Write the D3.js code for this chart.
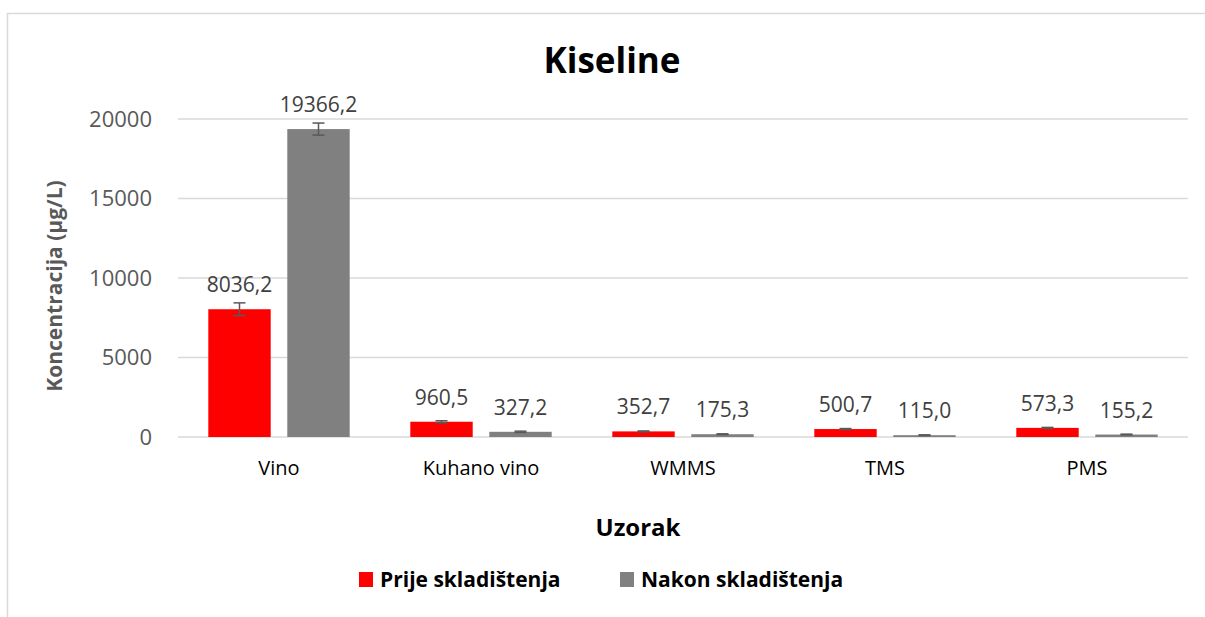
<!DOCTYPE html>
<html>
<head>
<meta charset="utf-8">
<script src="https://cdn.jsdelivr.net/npm/d3@7"></script>
<style>
  body { margin: 0; background: #fff; }
  svg { font-family: "Open Sans", sans-serif; }
</style>
</head>
<body>
<div id="chart"></div>
<script>
// data
var categories = ["Vino", "Kuhano vino", "WMMS", "TMS", "PMS"];
var seriesNames = ["Prije skladištenja", "Nakon skladištenja"];
var prije = [8036.2, 960.5, 352.7, 500.7, 573.3];
var nakon = [19366.2, 327.2, 175.3, 115.0, 155.2];
var prijeErr = [400, 60, 30, 30, 30];
var nakonErr = [380, 40, 25, 20, 25];
var yTicks = [0, 5000, 10000, 15000, 20000];
var colors = ["#ff0000", "#808080"];

var W = 1205, H = 617;
var margin = {top: 119, right: 17, bottom: 180, left: 178};
var width = W - margin.left - margin.right,
    height = H - margin.top - margin.bottom;

var svg = d3.select("#chart").append("svg")
    .attr("width", W)
    .attr("height", H);

// outer frame (runs past the right and bottom edges)
svg.append("rect")
    .attr("x", 7.5).attr("y", 13.5)
    .attr("width", W).attr("height", H)
    .attr("fill", "none")
    .attr("stroke", "#d9d9d9")
    .attr("stroke-width", 1.5);

var g = svg.append("g")
    .attr("transform", "translate(" + margin.left + "," + margin.top + ")");

var x0 = d3.scaleBand().domain(categories).range([0, width]).padding(0);
var x1 = d3.scaleBand().domain([0, 1])
    .range([x0.bandwidth() * 0.15, x0.bandwidth() * 0.85])
    .paddingInner(0.21);
var y = d3.scaleLinear().domain([0, 20000]).range([height, 0]);

// gridlines
g.append("g")
  .selectAll("line")
  .data(yTicks)
  .enter().append("line")
    .attr("x1", 0).attr("x2", width)
    .attr("y1", function(d) { return y(d); })
    .attr("y2", function(d) { return y(d); })
    .attr("stroke", "#d9d9d9")
    .attr("stroke-width", 1.5);

// y axis labels
var yAxis = g.append("g")
    .call(d3.axisLeft(y).tickValues(yTicks).tickSize(0).tickPadding(26).tickFormat(d3.format("d")));
yAxis.select(".domain").remove();
yAxis.selectAll("text")
    .attr("font-size", 22)
    .attr("font-family", "Open Sans, sans-serif")
    .attr("fill", "#595959");

// x axis labels
var xAxis = g.append("g")
    .attr("transform", "translate(0," + height + ")")
    .call(d3.axisBottom(x0).tickSize(0).tickPadding(24));
xAxis.select(".domain").remove();
xAxis.selectAll("text")
    .attr("font-size", 20)
    .attr("font-family", "Open Sans, sans-serif")
    .attr("fill", "#000");

var rows = categories.map(function(c, i) {
  return [
    {cat: c, s: 0, value: prije[i], err: prijeErr[i]},
    {cat: c, s: 1, value: nakon[i], err: nakonErr[i]}
  ];
});

var groups = g.selectAll(".grp")
  .data(rows)
  .enter().append("g")
    .attr("transform", function(d) { return "translate(" + x0(d[0].cat) + ",0)"; });

groups.selectAll("rect")
  .data(function(d) { return d; })
  .enter().append("rect")
    .attr("x", function(d) { return x1(d.s); })
    .attr("y", function(d) { return y(d.value); })
    .attr("width", x1.bandwidth())
    .attr("height", function(d) { return height - y(d.value); })
    .attr("fill", function(d) { return colors[d.s]; });

// error bars
var eb = groups.selectAll(".err")
  .data(function(d) { return d; })
  .enter().append("g")
    .attr("stroke", "#595959")
    .attr("stroke-width", 1.5);
eb.append("line")
    .attr("x1", function(d) { return x1(d.s) + x1.bandwidth() / 2; })
    .attr("x2", function(d) { return x1(d.s) + x1.bandwidth() / 2; })
    .attr("y1", function(d) { return y(d.value + d.err); })
    .attr("y2", function(d) { return y(d.value - d.err); });
[1, -1].forEach(function(sign) {
  eb.append("line")
    .attr("x1", function(d) { return x1(d.s) + x1.bandwidth() / 2 - 6; })
    .attr("x2", function(d) { return x1(d.s) + x1.bandwidth() / 2 + 6; })
    .attr("y1", function(d) { return y(d.value + sign * d.err); })
    .attr("y2", function(d) { return y(d.value + sign * d.err); });
});

// value labels
var fmt = function(v) { return d3.format(".1f")(v).replace(".", ","); };
groups.selectAll(".lbl")
  .data(function(d) { return d; })
  .enter().append("text")
    .attr("x", function(d) { return x1(d.s) + x1.bandwidth() / 2; })
    .attr("y", function(d) { return y(d.value) - 17; })
    .attr("text-anchor", "middle")
    .attr("font-size", 21)
    .attr("fill", "#404040")
    .text(function(d) { return fmt(d.value); });

// title
svg.append("text")
    .attr("x", 612).attr("y", 73)
    .attr("text-anchor", "middle")
    .attr("font-size", 35)
    .attr("font-weight", "bold")
    .attr("fill", "#000")
    .text("Kiseline");

// axis titles
svg.append("text")
    .attr("transform", "translate(62," + (margin.top + height / 2 + 8) + ") rotate(-90)")
    .attr("text-anchor", "middle")
    .attr("font-size", 21)
    .attr("font-weight", "bold")
    .attr("fill", "#595959")
    .text("Koncentracija (µg/L)");

svg.append("text")
    .attr("x", 638).attr("y", 536)
    .attr("text-anchor", "middle")
    .attr("font-size", 24)
    .attr("font-weight", "bold")
    .attr("fill", "#000")
    .text("Uzorak");

// legend
var legX = [359, 620];
var leg = svg.selectAll(".leg")
  .data(seriesNames)
  .enter().append("g")
    .attr("transform", function(d, i) { return "translate(" + legX[i] + ",572)"; });
leg.append("rect")
    .attr("width", 14).attr("height", 15)
    .attr("fill", function(d, i) { return colors[i]; });
leg.append("text")
    .attr("x", 21).attr("y", 15)
    .attr("font-size", 21)
    .attr("font-weight", "bold")
    .attr("fill", "#000")
    .text(function(d) { return d; });
</script>
</body>
</html>
